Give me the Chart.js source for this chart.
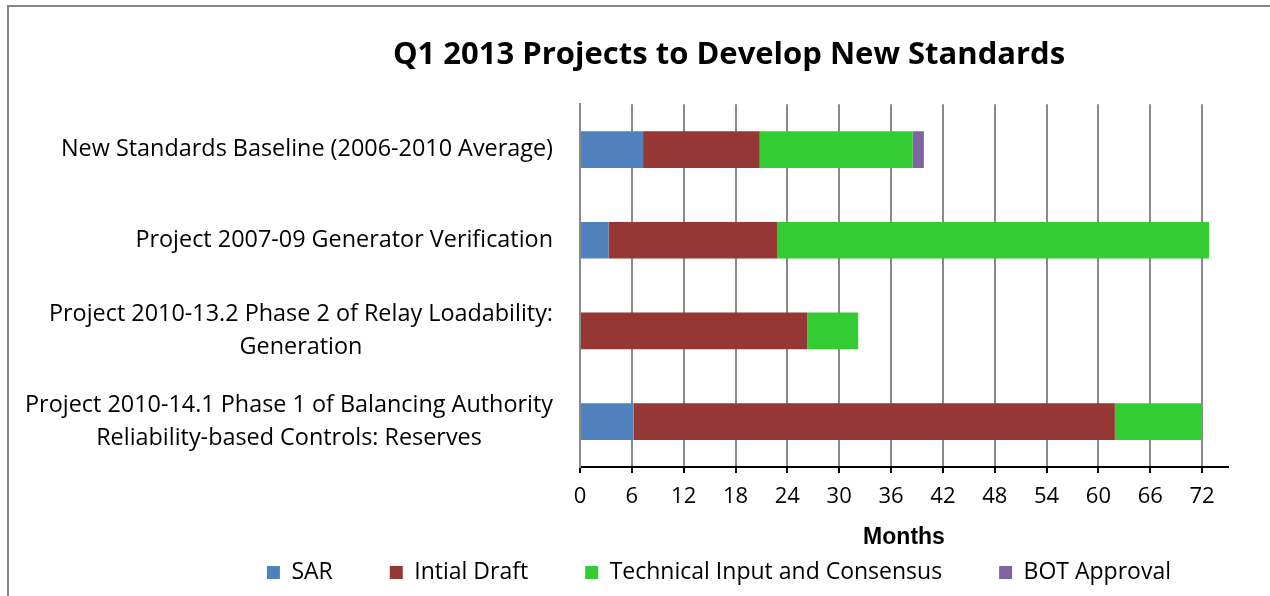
<!DOCTYPE html>
<html>
<head>
<meta charset="utf-8">
<script src="https://cdn.jsdelivr.net/npm/chart.js@4/dist/chart.umd.min.js"></script>
<style>
  html, body { margin: 0; padding: 0; background: #ffffff; }
  #wrap { width: 1270px; height: 596px; position: relative; }
</style>
</head>
<body>
<div id="wrap"><canvas id="c" width="1270" height="596"></canvas></div>
<script>
// ---- data ----
const categories = [
  "New Standards Baseline (2006-2010 Average)",
  "Project 2007-09 Generator Verification",
  ["Project 2010-13.2 Phase 2 of Relay Loadability:", "Generation"],
  ["Project 2010-14.1 Phase 1 of Balancing Authority", "Reliability-based Controls: Reserves"]
];
const seriesNames = ["SAR", "Intial Draft", "Technical Input and Consensus", "BOT Approval"];
const sar   = [7.3, 3.3, 0, 6.2];
const draft = [13.5, 19.5, 26.3, 55.7];
const tech  = [17.7, 50.0, 5.9, 10.1];
const bot   = [1.3, 0, 0, 0];
const xTickStep = 6;
const xMin = 0;
const xMax = 75;
const chartTitle = "Q1 2013 Projects to Develop New Standards";
const xAxisTitle = "Months";

// ---- styles ----
const colors = ["#4F81BD", "#953735", "#33CC33", "#8064A2"];
const baseFont = '"Open Sans", "Liberation Sans", sans-serif';

const framePlugin = {
  id: 'frame',
  beforeDraw(chart) {
    const ctx = chart.ctx;
    ctx.save();
    ctx.fillStyle = '#ffffff';
    ctx.fillRect(0, 0, chart.width, chart.height);
    ctx.strokeStyle = '#868686';
    ctx.lineWidth = 2;
    ctx.beginPath();
    ctx.moveTo(8, chart.height);
    ctx.lineTo(8, 6);
    ctx.lineTo(chart.width, 6);
    ctx.stroke();
    ctx.restore();
  }
};

// move legend row up into place and centre the title over the wider original chart
const layoutTweakPlugin = {
  id: 'layoutTweak',
  afterLayout(chart) {
    const lg = chart.legend;
    if (lg) {
      const pad = lg.options.labels.padding;
      lg.top = lg.top - pad + 8;
    }
    const tb = chart.titleBlock;
    if (tb) {
      tb.left = tb.left + 222;
    }
  }
};

const yLabelPlugin = {
  id: 'yLabels',
  afterDraw(chart) {
    const ctx = chart.ctx;
    const y = chart.scales.y;
    const rightEdge = chart.chartArea.left - 27;
    const lineGap = 32.5;
    ctx.save();
    ctx.font = '23.4px ' + baseFont;
    ctx.fillStyle = '#000000';
    ctx.textBaseline = 'middle';
    ctx.textAlign = 'center';
    chart.data.labels.forEach((lab, i) => {
      const lines = Array.isArray(lab) ? lab : [lab];
      const w = Math.max(...lines.map(l => ctx.measureText(l).width));
      const cx = rightEdge - w / 2;
      const cy = y.getPixelForTick(i);
      const y0 = cy - (lines.length - 1) * lineGap / 2;
      lines.forEach((l, k) => ctx.fillText(l, cx, y0 + k * lineGap));
    });
    ctx.restore();
  }
};

const seriesData = [sar, draft, tech, bot];
const datasets = seriesNames.map((name, i) => ({
  label: name,
  data: seriesData[i],
  backgroundColor: colors[i],
  borderWidth: 0,
  barPercentage: 0.405,
  categoryPercentage: 1.0
}));

new Chart(document.getElementById('c'), {
  type: 'bar',
  data: { labels: categories, datasets },
  options: {
    indexAxis: 'y',
    responsive: false,
    animation: false,
    devicePixelRatio: 1,
    layout: { padding: { left: 8, right: 42, top: 0, bottom: 3 } },
    scales: {
      x: {
        stacked: true,
        min: xMin,
        max: xMax,
        grid: {
          color: '#8a8a8a',
          lineWidth: 2,
          drawTicks: true,
          tickLength: 6,
          tickColor: '#000000',
          tickWidth: 2
        },
        border: { display: true, color: '#000000', width: 2 },
        ticks: {
          stepSize: xTickStep,
          includeBounds: false,
          color: '#000000',
          padding: 11,
          maxRotation: 0,
          autoSkip: false,
          font: { family: baseFont, size: 22 }
        },
        title: {
          display: true,
          text: xAxisTitle,
          color: '#000000',
          padding: { top: 2, bottom: 2 },
          font: { family: '"Liberation Sans", Arial, sans-serif', size: 23, weight: 'bold' }
        }
      },
      y: {
        stacked: true,
        grid: { display: false },
        border: { display: true, color: '#8a8a8a', width: 2 },
        ticks: { display: false },
        afterFit(scale) { scale.width = 572; }
      }
    },
    plugins: {
      title: {
        display: true,
        text: chartTitle,
        color: '#000000',
        font: { family: baseFont, size: 31, weight: 'bold' },
        padding: { top: 37, bottom: 30 }
      },
      legend: {
        position: 'bottom',
        align: 'end',
        maxHeight: 40,
        labels: {
          boxWidth: 13,
          boxHeight: 13,
          padding: 57,
          color: '#000000',
          font: { family: baseFont, size: 23 }
        }
      },
      tooltip: { enabled: false }
    }
  },
  plugins: [framePlugin, layoutTweakPlugin, yLabelPlugin]
});
</script>
</body>
</html>
